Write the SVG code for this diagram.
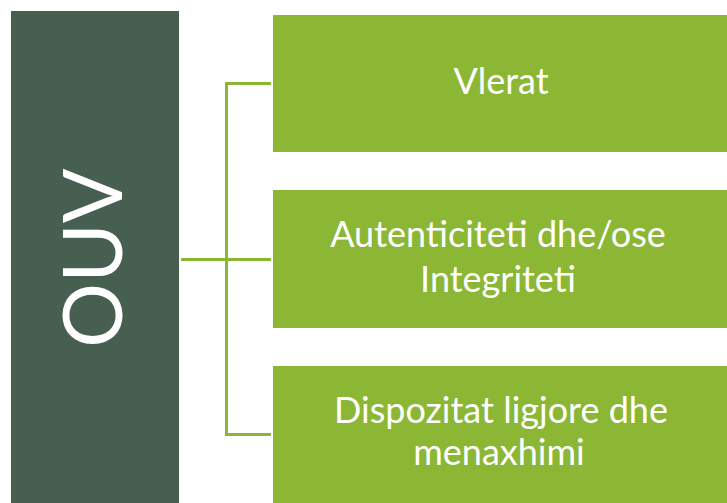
<svg xmlns="http://www.w3.org/2000/svg" width="727" height="503" viewBox="0 0 727 503">
<style>
.lbl{font-family:Lato,"Open Sans","Liberation Sans",sans-serif;fill:#ffffff;text-anchor:middle}
.box{fill:#8BB735}
.conn{fill:none;stroke:#8BB735;stroke-width:3}
</style>
<rect width="727" height="503" fill="#ffffff"/>
<g id="ouv">
<rect x="11" y="11" width="168" height="500" fill="#475F50"/>
<text class="lbl" transform="translate(122,258) rotate(-90)" font-size="81">OUV</text>
</g>
<g id="connectors">
<path class="conn" d="M271,83.5 H226.5 V434.5 H271 M181,259.5 H271"/>
</g>
<g id="vlerat">
<rect class="box" x="273" y="15" width="460" height="137"/>
<text class="lbl" x="501" y="94" font-size="36">Vlerat</text>
</g>
<g id="autenticiteti">
<rect class="box" x="273" y="190" width="460" height="138"/>
<text class="lbl" x="498" y="246.5" font-size="36">Autenticiteti dhe/ose</text>
<text class="lbl" x="498" y="291.5" font-size="36">Integriteti</text>
</g>
<g id="dispozitat">
<rect class="box" x="273" y="366" width="460" height="150"/>
<text class="lbl" x="501" y="423" font-size="36">Dispozitat ligjore dhe</text>
<text class="lbl" x="499" y="465" font-size="36">menaxhimi</text>
</g>
</svg>
